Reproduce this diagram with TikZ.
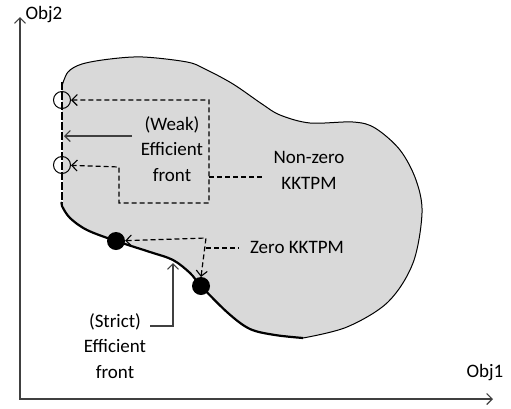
\documentclass[tikz,border=0pt]{standalone}
\usepackage{fontspec}
\setmainfont{Carlito}
\usetikzlibrary{arrows.meta}
\definecolor{regionfill}{HTML}{D9D9D9}
\definecolor{axisgray}{HTML}{404040}
\tikzset{
  lbl/.style={font=\fontsize{19}{25.5}\selectfont, align=center, inner sep=2pt},
  barb/.tip={Straight Barb[length=5.5pt,width=11pt,line width=1.1pt]},
  openhead/.style={-barb},
  axisline/.style={draw=axisgray, line width=1.3pt, barb-barb},
  dashlink/.style={draw=black, line width=1.2pt, dash pattern=on 5pt off 3pt},
  solidlink/.style={draw=axisgray, line width=1.2pt},
  ring/.style={circle, draw=black, line width=1pt, minimum size=17pt, inner sep=0pt},
  dot/.style={circle, fill=black, minimum size=18pt, inner sep=0pt},
}
\begin{document}
\begin{tikzpicture}[x=1pt,y=-1pt]
\useasboundingbox (0,0) rectangle (511,408);

% feasible region: thin outline above, strict front below
\fill[regionfill] plot[smooth, tension=0.55] coordinates {
  (62,86) (68,72) (82,64) (110,59) (143,57) (187,62) (205,69) (233,84) (262,104)
  (280,115) (310,123) (353,122) (375,128) (400,150) (416,180) (422,213)
  (413,263) (388,302) (347,327) (303,338)}
  -- plot[smooth, tension=0.55] coordinates {
  (303,338) (275,335) (250,329) (228,313) (201,286) (190,273) (173,260)
  (150,252) (116,241) (87,230) (70,218) (63,205)}
  -- cycle;
\draw[line width=1pt] plot[smooth, tension=0.55] coordinates {
  (62,86) (68,72) (82,64) (110,59) (143,57) (187,62) (205,69) (233,84) (262,104)
  (280,115) (310,123) (353,122) (375,128) (400,150) (416,180) (422,213)
  (413,263) (388,302) (347,327) (303,338)};
% strict efficient front
\draw[line width=2.2pt] plot[smooth, tension=0.55] coordinates {
  (303,338) (275,335) (250,329) (228,313) (201,286) (190,273) (173,260)
  (150,252) (116,241) (87,230) (70,218) (62,206) (62,202)};
% weak efficient front
\draw[line width=1.8pt, dash pattern=on 8pt off 2pt] (62,82) -- (62,203);

% axes
\coordinate (org) at (20,399);
\coordinate (ytip) at (20,17);
\coordinate (xtip) at (493,399);
\draw[axisline] (ytip) -- (org) -- (xtip);
\node[lbl] (obj2) at (44,15) {Obj2};
\node[lbl] (obj1) at (485,373) {Obj1};

% points on the front
\node[ring] (c1) at (62,100) {};
\node[ring] (c2) at (62,165) {};
\node[dot] (d1) at (116,241) {};
\node[dot] (d2) at (201,286) {};

% labels
\node[lbl] (weak) at (172,149) {(Weak)\\Efficient\\front};
\node[lbl] (nonzero) at (309,170.5) {Non-zero\\KKTPM};
\node[lbl] (zero) at (297,247) {Zero KKTPM};
\node[lbl] (strict) at (115,346) {(Strict)\\Efficient\\front};

% dashed links to the weakly efficient points
\coordinate (wtr) at (209,100);
\coordinate (wbr) at (209,203);
\coordinate (wbl) at (119,203);
\coordinate (wml) at (119,167);
\coordinate (wfr) at (209,177);
\draw[dashlink, barb-barb] (c1) -- (wtr) -- (wbr) -- (wbl) -- (wml) -- (c2);
\draw[dashlink, shorten >=7pt] (wfr) -- (nonzero.west |- wfr);

% dashed links to the strictly efficient points
\coordinate (zc) at (206,238);
\coordinate (zb) at (206,248);
\draw[dashlink, barb-barb] (d1) -- (zc) -- (d2 |- 0,277);
\draw[dashlink, shorten >=9pt] (zb) -- (zero.west |- zb);

% solid pointers to the two fronts
\coordinate (wstart) at (132,136);
\coordinate (wend) at (64,136);
\draw[solidlink, openhead] (wstart) -- (wend);
\coordinate (sstart) at (150,326);
\coordinate (scorner) at (173,326);
\coordinate (send) at (173,263);
\draw[solidlink, openhead] (sstart) -- (scorner) -- (send);
\end{tikzpicture}
\end{document}
